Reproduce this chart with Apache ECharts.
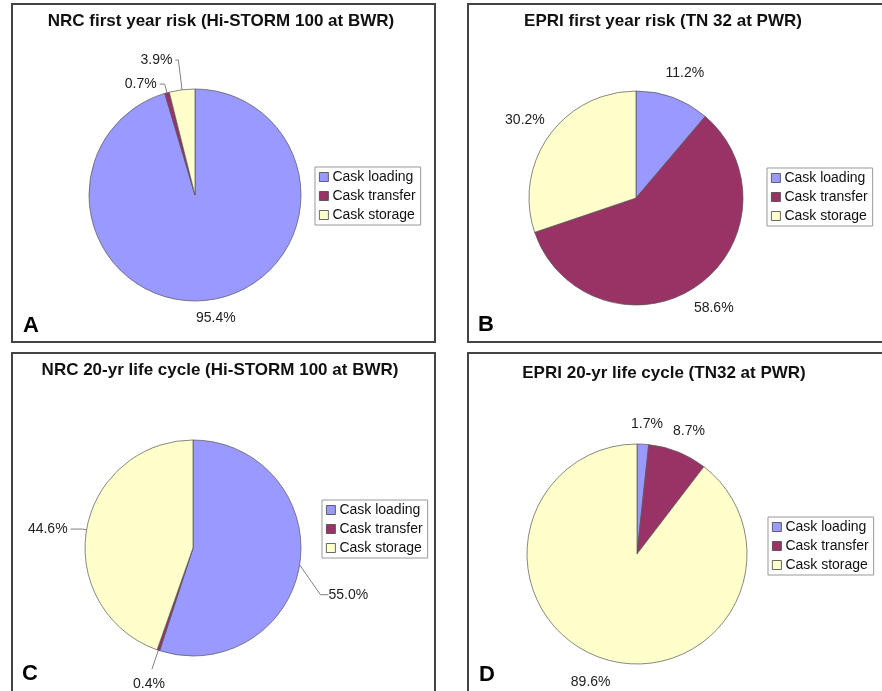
<!DOCTYPE html>
<html>
<head>
<meta charset="utf-8">
<script src="https://cdn.jsdelivr.net/npm/echarts@6/dist/echarts.min.js"></script>
<style>
	html, body { margin: 0; padding: 0; background: #fff; width: 882px; height: 691px; overflow: hidden; }
	.panel { position: absolute; box-sizing: border-box; border: 2px solid #444; background: #fff; }
	.panel div.chart { width: 100%; height: 100%; }
</style>
</head>
<body>
<div class="panel" style="left:11px;top:3px;width:425px;height:340px;"><div class="chart" id="chartA"></div></div>
<div class="panel" style="left:467px;top:3px;width:430px;height:340px;"><div class="chart" id="chartB"></div></div>
<div class="panel" style="left:11px;top:352px;width:425px;height:360px;"><div class="chart" id="chartC"></div></div>
<div class="panel" style="left:467px;top:352px;width:430px;height:360px;"><div class="chart" id="chartD"></div></div>
<script>
var categories = ['Cask loading', 'Cask transfer', 'Cask storage'];
var nrcFirstYear = [95.4, 0.7, 3.9];
var epriFirstYear = [11.2, 58.6, 30.2];
var nrcLifeCycle = [55.0, 0.4, 44.6];
var epriLifeCycle = [1.7, 8.7, 89.6];
var panelTitles = [
	'NRC first year risk (Hi-STORM 100 at BWR)',
	'EPRI first year risk (TN 32 at PWR)',
	'NRC 20-yr life cycle (Hi-STORM 100 at BWR)',
	'EPRI 20-yr life cycle (TN32 at PWR)'
];
var panelLetters = ['A', 'B', 'C', 'D'];

var colors = ['#9999FF', '#993366', '#FFFFCC'];
var fontFamily = '"Liberation Sans", Arial, sans-serif';

//每个扇区标签的引线设置：len/len2 引线长度，line 是否显示引线，center 标签居中，dy 纵向微调
var layoutA = [
	{ len: 18, len2: 0, line: false, center: true },
	{ len: 9, len2: 5, line: true },
	{ len: 30, len2: 3, line: true }
];
var layoutB = [
	{ len: 26, len2: 0, line: false, center: true },
	{ len: 26, len2: 0, line: false, center: true },
	{ len: 26, len2: 0, line: false, center: true }
];
var layoutC = [
	{ len: 18, len2: 8, line: true, dy: 27 },
	{ len: 20, len2: 0, line: true, center: true, dy: 15, keepLine: true },
	{ len: 4, len2: 12, line: true }
];
var layoutD = [
	{ len: 20, len2: 0, line: false, center: true },
	{ len: 22, len2: 0, line: false, center: true },
	{ len: 25, len2: 0, line: false, center: true }
];

function makePie(id, title, letter, values, cfg, geo) {
	var myChart = echarts.init(document.getElementById(id));
	var data = [];
	for(var i = 0; i < categories.length; i++) {
		data.push({
			name: categories[i],
			value: values[i],
			itemStyle: { color: colors[i] },
			labelLine: {
				show: cfg[i].line,
				length: cfg[i].len,
				length2: cfg[i].len2
			}
		});
	}
	var option = {
		animation: false,
		graphic: [{
			type: 'text',
			x: geo.titleX,
			y: geo.titleY,
			style: {
				text: title,
				font: 'bold 17px ' + fontFamily,
				fill: '#111',
				align: 'center',
				verticalAlign: 'middle'
			}
		}, {
			type: 'text',
			x: geo.letterX,
			y: geo.letterY,
			style: {
				text: letter,
				font: 'bold 22px ' + fontFamily,
				fill: '#000',
				align: 'left',
				verticalAlign: 'middle'
			}
		}],
		legend: {
			orient: 'vertical',
			left: geo.legendX,
			top: geo.legendY,
			data: categories,
			icon: 'rect',
			itemWidth: 9,
			itemHeight: 9,
			itemGap: 5,
			padding: [3, 5, 3, 4],
			backgroundColor: '#fff',
			borderColor: '#999',
			borderWidth: 1,
			borderRadius: 0,
			selectedMode: false,
			itemStyle: { borderColor: '#444', borderWidth: 0.8 },
			textStyle: { fontFamily: fontFamily, fontSize: 14, color: '#111', padding: [0, 0, 0, -1] }
		},
		series: [{
			type: 'pie',
			center: [geo.cx, geo.cy],
			radius: geo.r,
			startAngle: 90,
			clockwise: true,
			avoidLabelOverlap: false,
			silent: true,
			itemStyle: { borderColor: '#555', borderWidth: 0.7 },
			label: {
				show: true,
				position: 'outside',
				distanceToLabelLine: 3,
				fontFamily: fontFamily,
				fontSize: 14,
				color: '#222',
				formatter: function(p) {
					return p.value.toFixed(1) + '%';
				}
			},
			labelLine: {
				lineStyle: { color: '#808080', width: 1 }
			},
			labelLayout: function(p) {
				var c = cfg[p.dataIndex];
				var out = {};
				var w = p.labelRect.width;
				if(c.center) {
					out.x = p.align === 'left' ? p.labelRect.x - w / 2 : p.labelRect.x + w * 1.5;
				}
				if(c.dy) {
					out.y = p.labelRect.y + p.labelRect.height / 2 + c.dy;
				}
				if(c.keepLine && p.labelLinePoints) {
					out.labelLinePoints = p.labelLinePoints;
				}
				return out;
			},
			data: data
		}]
	};
	myChart.setOption(option);
	return myChart;
}

makePie('chartA', panelTitles[0], panelLetters[0], nrcFirstYear, layoutA,
	{ cx: 182, cy: 190, r: 106, titleX: 208, titleY: 16, letterX: 10, letterY: 321, legendX: 302, legendY: 162 });
makePie('chartB', panelTitles[1], panelLetters[1], epriFirstYear, layoutB,
	{ cx: 167, cy: 193, r: 107, titleX: 194, titleY: 16, letterX: 9, letterY: 320, legendX: 298, legendY: 163 });
makePie('chartC', panelTitles[2], panelLetters[2], nrcLifeCycle, layoutC,
	{ cx: 180, cy: 194, r: 108, titleX: 207, titleY: 16, letterX: 9, letterY: 320, legendX: 309, legendY: 146 });
makePie('chartD', panelTitles[3], panelLetters[3], epriLifeCycle, layoutD,
	{ cx: 168, cy: 200, r: 110, titleX: 195, titleY: 19, letterX: 10, letterY: 321, legendX: 299, legendY: 163 });
</script>
</body>
</html>
